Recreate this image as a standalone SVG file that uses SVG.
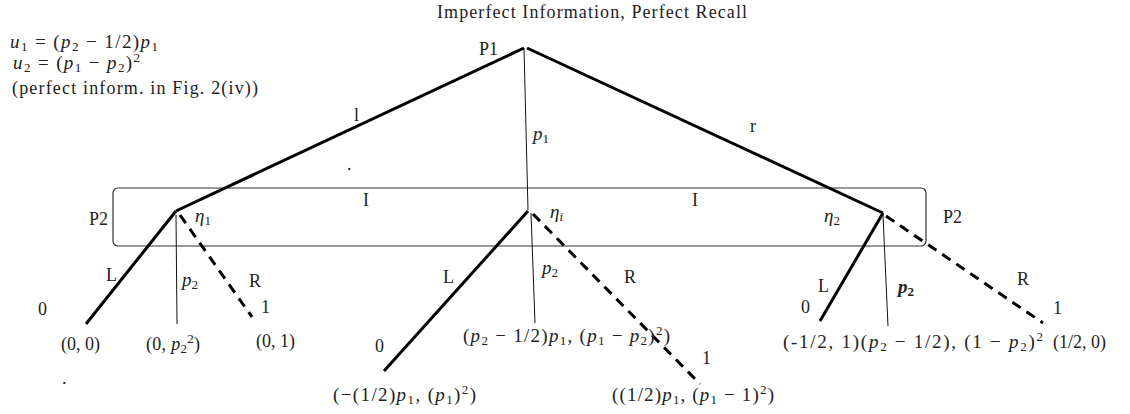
<svg xmlns="http://www.w3.org/2000/svg" width="1130" height="414" viewBox="0 0 1130 414">
<style>
.t{font-family:"Liberation Serif",serif;font-size:18px;fill:#222}
.m{font-size:19px}
.i{font-style:italic}
.s{font-size:13px}
.thick{stroke:#000;stroke-width:3;fill:none;stroke-linecap:butt}
.thin{stroke:#111;stroke-width:1;fill:none}
.dash{stroke:#000;stroke-width:3;fill:none;stroke-dasharray:10 7}
</style>
<rect width="1130" height="414" fill="#fff"/>
<g id="title">
<text class="t" x="592" y="18" text-anchor="middle" textLength="310" lengthAdjust="spacing">Imperfect Information, Perfect Recall</text>
</g>
<g id="payoffs-def">
<text class="t m" x="10" y="48" textLength="148" lengthAdjust="spacing"><tspan class="i">u</tspan><tspan class="s" dy="3">1</tspan><tspan dy="-3"> = (</tspan><tspan class="i">p</tspan><tspan class="s" dy="3">2</tspan><tspan dy="-3"> − 1/2)</tspan><tspan class="i">p</tspan><tspan class="s" dy="3">1</tspan></text>
<text class="t m" x="13" y="69" textLength="127" lengthAdjust="spacing"><tspan class="i">u</tspan><tspan class="s" dy="3">2</tspan><tspan dy="-3"> = (</tspan><tspan class="i">p</tspan><tspan class="s" dy="3">1</tspan><tspan dy="-3"> − </tspan><tspan class="i">p</tspan><tspan class="s" dy="3">2</tspan><tspan dy="-3">)</tspan><tspan class="s" dy="-7">2</tspan></text>
<text class="t" x="12" y="94" textLength="246" lengthAdjust="spacing">(perfect inform. in Fig. 2(iv))</text>
</g>
<g id="infoset">
<rect x="113" y="188" width="813" height="58" rx="5" fill="none" stroke="#333" stroke-width="1.2"/>
<text class="t" x="363" y="206">I</text>
<text class="t" x="692" y="206">I</text>
</g>
<g id="connectors">
<line class="thick" x1="524" y1="48" x2="176" y2="211"/>
<line class="thin" x1="524" y1="48" x2="528" y2="210"/>
<line class="thick" x1="527" y1="48" x2="883" y2="213"/>
<line class="thick" x1="176" y1="211" x2="86" y2="324"/>
<line class="thin" x1="176" y1="215" x2="177" y2="324"/>
<line class="dash" x1="180" y1="215" x2="252" y2="317"/>
<line class="thick" x1="528" y1="211" x2="384" y2="371"/>
<line class="thin" x1="531" y1="213" x2="535" y2="323"/>
<line class="dash" x1="533" y1="214" x2="700" y2="384"/>
<line class="thick" x1="883" y1="213" x2="820" y2="321"/>
<line class="thin" x1="883" y1="215" x2="888" y2="326"/>
<line class="dash" x1="886" y1="216" x2="1043" y2="323"/>
</g>
<g id="root">
<text class="t" x="479" y="55">P1</text>
<text class="t" x="354" y="121">l</text>
<text class="t i m" x="533" y="140">p<tspan class="s" dy="3" font-style="normal">1</tspan></text>
<text class="t" x="750" y="132">r</text>
<text class="t" x="347" y="170" font-size="8">.</text>
<text class="t" x="62" y="384" font-size="8">.</text>
</g>
<g id="node-eta1">
<text class="t" x="89" y="225">P2</text>
<text class="t i m" x="195" y="222">η<tspan class="s" dy="3" font-style="normal">1</tspan></text>
<text class="t" x="106" y="281">L</text>
<text class="t i m" x="182" y="286">p<tspan class="s" dy="3" font-style="normal">2</tspan></text>
<text class="t" x="249" y="287">R</text>
<text class="t" x="38" y="315">0</text>
<text class="t" x="261" y="313">1</text>
<text class="t" x="61" y="350">(0, 0)</text>
<text class="t" x="146" y="350" textLength="54" lengthAdjust="spacing">(0, <tspan class="i">p</tspan><tspan class="s" dy="3">2</tspan><tspan class="s" dy="-10">2</tspan><tspan dy="7">)</tspan></text>
<text class="t" x="256" y="347">(0, 1)</text>
</g>
<g id="node-etai">
<text class="t i m" x="550" y="218">η<tspan class="s" dy="3">i</tspan></text>
<text class="t" x="443" y="283">L</text>
<text class="t i m" x="542" y="274">p<tspan class="s" dy="3" font-style="normal">2</tspan></text>
<text class="t" x="624" y="283">R</text>
<text class="t" x="375" y="352">0</text>
<text class="t" x="702" y="364">1</text>
<text class="t m" x="463" y="342" textLength="207" lengthAdjust="spacing">(<tspan class="i">p</tspan><tspan class="s" dy="3">2</tspan><tspan dy="-3"> − 1/2)</tspan><tspan class="i">p</tspan><tspan class="s" dy="3">1</tspan><tspan dy="-3">,  (</tspan><tspan class="i">p</tspan><tspan class="s" dy="3">1</tspan><tspan dy="-3"> − </tspan><tspan class="i">p</tspan><tspan class="s" dy="3">2</tspan><tspan dy="-3">)</tspan><tspan class="s" dy="-7">2</tspan><tspan dy="7">)</tspan></text>
<text class="t m" x="333" y="401" textLength="143" lengthAdjust="spacing">(−(1/2)<tspan class="i">p</tspan><tspan class="s" dy="3">1</tspan><tspan dy="-3">,  (</tspan><tspan class="i">p</tspan><tspan class="s" dy="3">1</tspan><tspan dy="-3">)</tspan><tspan class="s" dy="-7">2</tspan><tspan dy="7">)</tspan></text>
<text class="t m" x="612" y="401" textLength="162" lengthAdjust="spacing">((1/2)<tspan class="i">p</tspan><tspan class="s" dy="3">1</tspan><tspan dy="-3">,  (</tspan><tspan class="i">p</tspan><tspan class="s" dy="3">1</tspan><tspan dy="-3"> − 1)</tspan><tspan class="s" dy="-7">2</tspan><tspan dy="7">)</tspan></text>
</g>
<g id="node-eta2">
<text class="t" x="943" y="223">P2</text>
<text class="t i m" x="824" y="222">η<tspan class="s" dy="3" font-style="normal">2</tspan></text>
<text class="t" x="818" y="292">L</text>
<text class="t i m" x="898" y="293" font-weight="bold">p<tspan class="s" dy="3" font-style="normal">2</tspan></text>
<text class="t" x="1017" y="285">R</text>
<text class="t" x="801" y="313">0</text>
<text class="t" x="1053" y="314">1</text>
<text class="t m" x="783" y="348" textLength="260" lengthAdjust="spacing">(-1/2, 1)(<tspan class="i">p</tspan><tspan class="s" dy="3">2</tspan><tspan dy="-3"> − 1/2),  (1 − </tspan><tspan class="i">p</tspan><tspan class="s" dy="3">2</tspan><tspan dy="-3">)</tspan><tspan class="s" dy="-7">2</tspan></text>
<text class="t" x="1053" y="348">(1/2, 0)</text>
</g>
</svg>
